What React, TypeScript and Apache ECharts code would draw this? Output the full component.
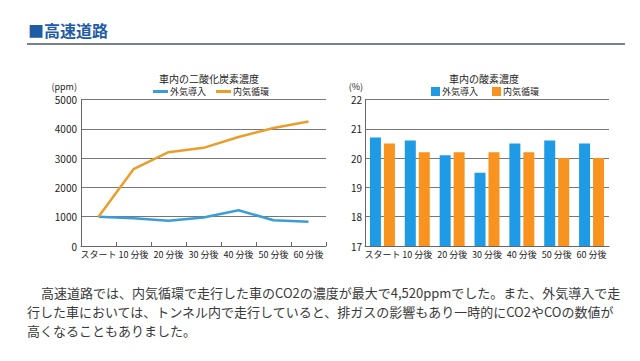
import React, { useEffect, useRef } from "react";
import * as echarts from "echarts";

const categories = ["スタート", "10 分後", "20 分後", "30 分後", "40 分後", "50 分後", "60 分後"];
const seriesNames = ["外気導入", "内気循環"];
const co2Outside = [1000, 950, 860, 970, 1220, 880, 830];
const co2Inside = [1000, 2620, 3200, 3350, 3720, 4030, 4250];
const o2Outside = [20.7, 20.6, 20.1, 19.5, 20.5, 20.6, 20.5];
const o2Inside = [20.5, 20.2, 20.2, 20.2, 20.2, 20.0, 20.0];
const heading = "■高速道路";
const leftTitle = "車内の二酸化炭素濃度";
const rightTitle = "車内の酸素濃度";
const paragraph = [
  "高速道路では、内気循環で走行した車のCO2の濃度が最大で4,520ppmでした。また、外気導入で走",
  "行した車においては、トンネル内で走行していると、排ガスの影響もあり一時的にCO2やCOの数値が",
  "高くなることもありました。",
];

const FONT = "'Noto Sans CJK JP', 'Noto Sans', sans-serif";
const BLUE_LINE = "#3a9dd8";
const ORANGE_LINE = "#eb9d2c";
const BLUE_BAR = "#1f9be6";
const ORANGE_BAR = "#f7931e";

export default function App() {
  const ref = useRef<HTMLDivElement>(null);
  useEffect(() => {
    document.body.style.margin = "0";
    const chart = echarts.init(ref.current!, null, { renderer: "svg" });
    const axisLabel = { color: "#222", fontSize: 9, fontFamily: FONT };
    chart.setOption({
      animation: false,
      textStyle: { fontFamily: FONT },
      title: [
        { text: leftTitle, left: 204, top: 68, textAlign: "center", textStyle: { fontSize: 10, fontWeight: "normal", color: "#222", fontFamily: FONT } },
        { text: rightTitle, left: 479, top: 68, textAlign: "center", textStyle: { fontSize: 10, fontWeight: "normal", color: "#222", fontFamily: FONT } },
      ],
      legend: [
        {
          data: seriesNames.map((n) => ({ name: n })),
          left: 148, top: 82, icon: "rect", itemWidth: 15, itemHeight: 3, itemGap: 10,
          textStyle: { fontSize: 9, color: "#222", fontFamily: FONT, padding: [0, 0, 0, -3] },
        },
        {
          data: seriesNames.map((n) => ({ name: n + " " })),
          left: 426, top: 82, icon: "rect", itemWidth: 9, itemHeight: 9, itemGap: 12,
          textStyle: { fontSize: 9, color: "#222", fontFamily: FONT, padding: [0, 0, 0, -3] },
        },
      ],
      grid: [
        { left: 81, right: 314, top: 99.5, bottom: 115 },
        { left: 365, right: 31, top: 99.5, bottom: 115 },
      ],
      xAxis: [
        {
          gridIndex: 0, type: "category", data: categories, boundaryGap: true,
          axisLine: { lineStyle: { color: "#666" } },
          axisTick: { show: true, inside: true, length: 4, interval: 0, lineStyle: { color: "#666" } },
          axisLabel: { ...axisLabel, margin: 4, interval: 0 },
        },
        {
          gridIndex: 1, type: "category", data: categories,
          axisLine: { lineStyle: { color: "#666" } },
          axisTick: { show: false },
          axisLabel: { ...axisLabel, margin: 4, interval: 0 },
        },
      ],
      yAxis: [
        {
          gridIndex: 0, type: "value", min: 0, max: 5000, interval: 1000,
          name: "(ppm)", nameLocation: "end", nameGap: 9,
          nameTextStyle: { fontSize: 9, color: "#222", align: "right", padding: [0, 4, 0, 0], fontFamily: FONT },
          axisLine: { show: true, lineStyle: { color: "#666" } },
          splitLine: { lineStyle: { color: "#777" } },
          axisLabel: { ...axisLabel, fontSize: 10, margin: 4, formatter: (v: number) => String(v) },
        },
        {
          gridIndex: 1, type: "value", min: 17, max: 22, interval: 1,
          name: "(%)", nameLocation: "end", nameGap: 9,
          nameTextStyle: { fontSize: 9, color: "#222", align: "right", padding: [0, 2, 0, 0], fontFamily: FONT },
          axisLine: { show: true, lineStyle: { color: "#666" } },
          splitLine: { lineStyle: { color: "#777" } },
          axisLabel: { ...axisLabel, fontSize: 10, margin: 3, formatter: (v: number) => String(v) },
        },
      ],
      series: [
        { name: seriesNames[0], type: "line", xAxisIndex: 0, yAxisIndex: 0, data: co2Outside, showSymbol: false, symbol: "none", color: BLUE_LINE, lineStyle: { width: 2.5, color: BLUE_LINE } },
        { name: seriesNames[1], type: "line", xAxisIndex: 0, yAxisIndex: 0, data: co2Inside, showSymbol: false, symbol: "none", color: ORANGE_LINE, lineStyle: { width: 2.5, color: ORANGE_LINE } },
        { name: seriesNames[0] + " ", type: "bar", xAxisIndex: 1, yAxisIndex: 1, data: o2Outside, barWidth: 11, barGap: "27%", color: BLUE_BAR },
        { name: seriesNames[1] + " ", type: "bar", xAxisIndex: 1, yAxisIndex: 1, data: o2Inside, barWidth: 11, barGap: "27%", color: ORANGE_BAR },
      ],
      graphic: [
        { type: "text", left: 28, top: 22, style: { text: heading, fontSize: 16, fontWeight: "bold", fill: "#1f5ca6", fontFamily: FONT } },
        { type: "line", shape: { x1: 27, y1: 44, x2: 625, y2: 44 }, style: { stroke: "#4a5866", lineWidth: 1.5 } },
        ...paragraph.map((t, i) => ({
          type: "text", x: i === 0 ? 41 : 27, y: 292 + i * 19,
          style: { text: t, fontSize: 13, fill: "#3a3a3a", fontFamily: FONT, textVerticalAlign: "middle" },
        })),
      ],
    });
    return () => chart.dispose();
  }, []);
  return <div ref={ref} style={{ width: 640, height: 361 }} />;
}
